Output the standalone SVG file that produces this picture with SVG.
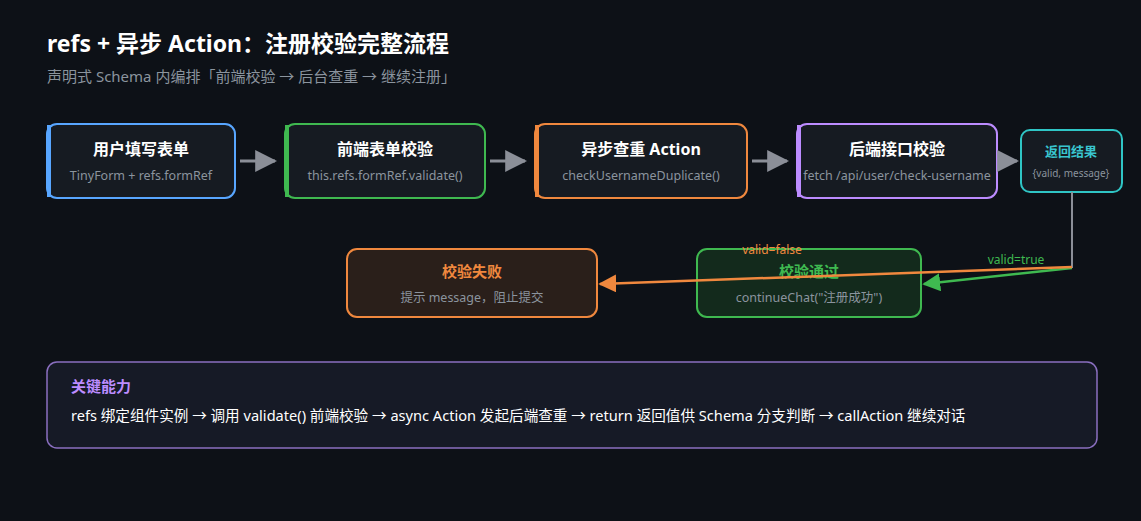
<svg xmlns="http://www.w3.org/2000/svg" width="1141" height="521" viewBox="0 0 1141 521">
<defs>
<marker id="ag" viewBox="0 0 10 10" refX="9" refY="5" markerWidth="22" markerHeight="22" markerUnits="userSpaceOnUse" orient="auto"><path d="M0,0L10,5L0,10z" fill="#8b8f98"/></marker>
<marker id="ao" viewBox="0 0 10 10" refX="9" refY="5" markerWidth="18" markerHeight="18" markerUnits="userSpaceOnUse" orient="auto"><path d="M0,0L10,5L0,10z" fill="#f0883e"/></marker>
<marker id="agr" viewBox="0 0 10 10" refX="9" refY="5" markerWidth="18" markerHeight="18" markerUnits="userSpaceOnUse" orient="auto"><path d="M0,0L10,5L0,10z" fill="#3fb950"/></marker>
</defs>
<style>
text{font-family:"Noto Sans","Noto Sans CJK SC",sans-serif}
.box{fill:#161b22;stroke-width:2}
.t{font-size:16px;font-weight:bold;fill:#fff;text-anchor:middle}
.s{font-size:12.5px;fill:#8b949e;text-anchor:middle}
.flow{stroke:#8b8f98;stroke-width:3;fill:none}
</style>
<rect width="1141" height="521" fill="#0d1117"/>
<text x="47" y="52" font-size="23" font-weight="bold" fill="#fff">refs + 异步 Action：注册校验完整流程</text>
<text x="47" y="82" font-size="15" fill="#8b949e">声明式 Schema 内编排「前端校验 → 后台查重 → 继续注册」</text>
<g id="n1"><rect class="box" x="47" y="124" width="188" height="74" rx="10" stroke="#58a6ff"/><rect x="47" y="125" width="4" height="72" fill="#58a6ff"/><text class="t" x="141" y="155">用户填写表单</text><text class="s" x="141" y="180">TinyForm + refs.formRef</text></g>
<g id="n2"><rect class="box" x="285" y="124" width="200" height="74" rx="10" stroke="#3fb950"/><rect x="285" y="125" width="4" height="72" fill="#3fb950"/><text class="t" x="385" y="155">前端表单校验</text><text class="s" x="385" y="180">this.refs.formRef.validate()</text></g>
<g id="n3"><rect class="box" x="535" y="124" width="212" height="74" rx="10" stroke="#f0883e"/><rect x="535" y="125" width="4" height="72" fill="#f0883e"/><text class="t" x="641" y="155">异步查重 Action</text><text class="s" x="641" y="180">checkUsernameDuplicate()</text></g>
<g id="n4"><rect class="box" x="797" y="124" width="200" height="74" rx="10" stroke="#bc8cff"/><rect x="797" y="125" width="4" height="72" fill="#bc8cff"/><text class="t" x="897" y="155">后端接口校验</text><text class="s" x="897" y="180">fetch /api/user/check-username</text></g>
<g id="n5"><rect class="box" x="1021" y="130" width="101" height="62" rx="9" stroke="#2fc5c5"/><text x="1071" y="156" font-size="13" font-weight="bold" fill="#39c5cf" text-anchor="middle">返回结果</text><text x="1071" y="177" font-size="10" fill="#8b949e" text-anchor="middle">{valid, message}</text></g>
<g id="fail"><rect x="347" y="249" width="250" height="68" rx="10" fill="#2a1f1a" stroke="#f0883e" stroke-width="2"/><text x="472" y="277" font-size="15" font-weight="bold" fill="#f0883e" text-anchor="middle">校验失败</text><text class="s" x="472" y="302">提示 message，阻止提交</text></g>
<g id="pass"><rect x="697" y="249" width="224" height="68" rx="10" fill="#132a1c" stroke="#3fb950" stroke-width="2"/><text x="809" y="277" font-size="15" font-weight="bold" fill="#3fb950" text-anchor="middle">校验通过</text><text class="s" x="809" y="302">continueChat("注册成功")</text></g>
<g id="connectors">
<line class="flow" x1="240" y1="161" x2="275" y2="161" marker-end="url(#ag)"/>
<line class="flow" x1="490" y1="161" x2="525" y2="161" marker-end="url(#ag)"/>
<line class="flow" x1="752" y1="161" x2="787" y2="161" marker-end="url(#ag)"/>
<path d="M998,161L1017,161" stroke="#8b8f98" stroke-width="3" marker-end="url(#ag)"/>
<path d="M1072,192V268" stroke="#8b8f98" stroke-width="2" fill="none"/>
<path d="M1072,268L924,284" stroke="#3fb950" stroke-width="2.5" fill="none" marker-end="url(#agr)"/>
<path d="M1072,267L600,284" stroke="#f0883e" stroke-width="2.5" fill="none" marker-end="url(#ao)"/>
<text x="772" y="254" font-size="12" fill="#f0883e" text-anchor="middle">valid=false</text>
<text x="1016" y="264" font-size="12" fill="#3fb950" text-anchor="middle">valid=true</text>
</g>
<g id="note"><rect x="47" y="362" width="1050" height="86" rx="10" fill="#161a26" stroke="#8a6fc0" stroke-width="1.5"/><text x="71" y="392" font-size="15" font-weight="bold" fill="#bc8cff">关键能力</text><text x="71" y="421" font-size="14.6" fill="#fff">refs 绑定组件实例 → 调用 validate() 前端校验 → async Action 发起后端查重 → return 返回值供 Schema 分支判断 → callAction 继续对话</text></g>
</svg>
